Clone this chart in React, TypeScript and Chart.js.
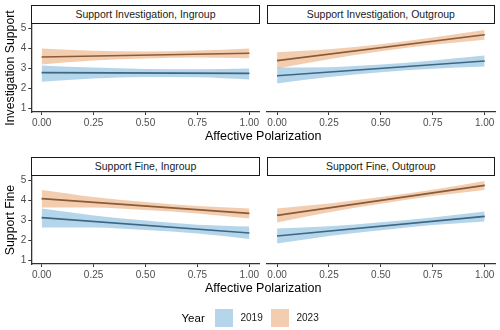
import React, { useEffect, useRef } from 'react';
import { Chart, registerables } from 'chart.js';
Chart.register(...registerables);

const years = ['2019', '2023'];
const panelTitles = [
  'Support Investigation, Ingroup',
  'Support Investigation, Outgroup',
  'Support Fine, Ingroup',
  'Support Fine, Outgroup',
];
const rowTitles = ['Investigation Support', 'Support Fine'];
const xTitle = 'Affective Polarization';
const legendTitle = 'Year';
const xTicks = [0, 0.25, 0.5, 0.75, 1];
const yTicks = [1, 2, 3, 4, 5];
const lineX = [0, 1];
const bandX = [0, 0.25, 0.5, 0.75, 1];

// 2019 estimates per panel (TL, TR, BL, BR)
const fit2019 = [
  [2.77, 2.73],
  [2.61, 3.35],
  [3.12, 2.35],
  [2.2, 3.18],
];
const lower2019 = [
  [2.31, 2.47, 2.55, 2.54, 2.43],
  [2.23, 2.55, 2.79, 2.96, 3.07],
  [2.63, 2.63, 2.5, 2.32, 2.05],
  [1.82, 2.2, 2.49, 2.75, 2.93],
];
const upper2019 = [
  [3.13, 3.02, 2.95, 2.94, 2.98],
  [3.02, 3.04, 3.17, 3.37, 3.62],
  [3.57, 3.23, 2.97, 2.76, 2.67],
  [2.57, 2.69, 2.89, 3.12, 3.42],
];
// 2023 estimates per panel
const fit2023 = [
  [3.55, 3.74],
  [3.37, 4.66],
  [4.07, 3.33],
  [3.23, 4.73],
];
const lower2023 = [
  [3.18, 3.37, 3.47, 3.52, 3.49],
  [2.97, 3.44, 3.84, 4.16, 4.41],
  [3.63, 3.62, 3.5, 3.33, 3.08],
  [2.87, 3.39, 3.81, 4.2, 4.5],
];
const upper2023 = [
  [3.98, 3.86, 3.82, 3.87, 3.98],
  [3.79, 3.94, 4.19, 4.52, 4.9],
  [4.5, 4.15, 3.9, 3.7, 3.58],
  [3.58, 3.83, 4.15, 4.51, 4.95],
];

const bandColors = ['rgba(107,174,214,0.5)', 'rgba(231,155,97,0.5)'];
const lineColors = ['#0e2030', '#2e1a0c'];
const FONT = '"Liberation Sans", Arial, Helvetica, sans-serif';
const W = 500;
const H = 330;
const X_AXIS_H = 20;

const panels = [
  { left: 31.3, right: 259.7, top: 24, bottom: 112, showY: true },
  { left: 266.7, right: 495, top: 24, bottom: 112, showY: false },
  { left: 31.3, right: 259.7, top: 176, bottom: 264, showY: true },
  { left: 266.7, right: 495, top: 176, bottom: 264, showY: false },
];

function Panel({ idx }: { idx: number }) {
  const ref = useRef<HTMLCanvasElement | null>(null);
  useEffect(() => {
    const p = panels[idx];
    const fits = [fit2019[idx], fit2023[idx]];
    const lows = [lower2019[idx], lower2023[idx]];
    const ups = [upper2019[idx], upper2023[idx]];
    const datasets: any[] = [];
    years.forEach((_, i) => {
      datasets.push({
        data: bandX.map((x, k) => ({ x, y: lows[i][k] })),
        borderWidth: 0,
        borderColor: 'transparent',
        pointRadius: 0,
        fill: false,
        cubicInterpolationMode: 'monotone',
      });
      datasets.push({
        data: bandX.map((x, k) => ({ x, y: ups[i][k] })),
        borderWidth: 0,
        borderColor: 'transparent',
        backgroundColor: bandColors[i],
        pointRadius: 0,
        fill: '-1',
        cubicInterpolationMode: 'monotone',
      });
    });
    years.forEach((_, i) => {
      datasets.push({
        data: lineX.map((x, k) => ({ x, y: fits[i][k] })),
        borderColor: lineColors[i],
        borderWidth: 1.6,
        pointRadius: 0,
        fill: false,
      });
    });
    const tickFont = { family: FONT, size: 10 };
    const chart = new Chart(ref.current as HTMLCanvasElement, {
      type: 'line',
      data: { datasets },
      options: {
        responsive: false,
        animation: false,
        events: [],
        layout: {
          padding: {
            left: p.showY ? 0 : p.left,
            top: p.top,
            right: W - p.right,
            bottom: H - p.bottom - X_AXIS_H,
          },
        },
        plugins: { legend: { display: false }, tooltip: { enabled: false } },
        scales: {
          x: {
            type: 'linear',
            min: -0.05,
            max: 1.05,
            afterBuildTicks: (s: any) => {
              s.ticks = xTicks.map((v) => ({ value: v }));
            },
            afterFit: (s: any) => {
              s.height = X_AXIS_H;
            },
            ticks: {
              font: tickFont,
              color: '#4d4d4d',
              padding: 2,
              maxRotation: 0,
              callback: (v: any) => Number(v).toFixed(2),
            },
            grid: { drawOnChartArea: false, drawTicks: true, tickLength: 3, color: '#333333', lineWidth: 1 },
            border: { display: true, color: '#333333', width: 1.3 },
          },
          y: {
            type: 'linear',
            display: p.showY,
            min: 0.8,
            max: 5.2,
            afterBuildTicks: (s: any) => {
              s.ticks = yTicks.map((v) => ({ value: v }));
            },
            afterFit: (s: any) => {
              s.width = p.showY ? p.left : 0;
            },
            ticks: {
              font: tickFont,
              color: '#4d4d4d',
              padding: 2,
              callback: (v: any) => String(v),
            },
            grid: { drawOnChartArea: false, drawTicks: true, tickLength: 3, color: '#333333', lineWidth: 1 },
            border: { display: true, color: '#333333', width: 1.3 },
          },
        },
      } as any,
    });
    return () => chart.destroy();
  }, [idx]);
  return (
    <canvas
      ref={ref}
      width={W}
      height={H}
      style={{ position: 'absolute', left: 0, top: 0, width: W, height: H }}
    />
  );
}

export default function App() {
  const stripH = 19.5;
  return (
    <div
      style={{
        position: 'fixed',
        left: 0,
        top: 0,
        width: W,
        height: H,
        background: '#ffffff',
        fontFamily: FONT,
        overflow: 'hidden',
      }}
    >
      {panels.map((p, i) => (
        <Panel key={i} idx={i} />
      ))}
      {panels.map((p, i) => (
        <div
          key={'s' + i}
          style={{
            position: 'absolute',
            left: p.left,
            top: p.top - stripH,
            width: p.right - p.left,
            height: stripH,
            boxSizing: 'border-box',
            border: '1px solid #1a1a1a',
            background: '#ffffff',
            color: '#1a1a1a',
            fontSize: 10.5,
            lineHeight: stripH - 2 + 'px',
            textAlign: 'center',
            whiteSpace: 'nowrap',
          }}
        >
          {panelTitles[i]}
        </div>
      ))}
      {rowTitles.map((t, r) => {
        const p = panels[r * 2];
        const cy = (p.top + p.bottom) / 2;
        return (
          <div
            key={'y' + r}
            style={{
              position: 'absolute',
              left: 10 - 75,
              top: cy - 8,
              width: 150,
              height: 16,
              lineHeight: '16px',
              textAlign: 'center',
              fontSize: 12.3,
              color: '#000',
              transform: 'rotate(-90deg)',
              whiteSpace: 'nowrap',
            }}
          >
            {t}
          </div>
        );
      })}
      {[0, 1].map((r) => {
        const p = panels[r * 2];
        return (
          <div
            key={'x' + r}
            style={{
              position: 'absolute',
              left: 31.3,
              width: 495 - 31.3,
              top: p.bottom + 15.5,
              height: 16,
              lineHeight: '16px',
              textAlign: 'center',
              fontSize: 12.5,
              color: '#000',
              whiteSpace: 'nowrap',
            }}
          >
            {xTitle}
          </div>
        );
      })}
      <div
        style={{
          position: 'absolute',
          left: 181.5,
          top: 310,
          height: 16,
          lineHeight: '16px',
          fontSize: 11.5,
          color: '#000',
        }}
      >
        {legendTitle}
      </div>
      {years.map((y, i) => (
        <React.Fragment key={'l' + i}>
          <div
            style={{
              position: 'absolute',
              left: 215 + i * 56,
              top: 309,
              width: 18,
              height: 18,
              background: bandColors[i],
            }}
          />
          <div
            style={{
              position: 'absolute',
              left: 240.5 + i * 56,
              top: 310,
              height: 16,
              lineHeight: '16px',
              fontSize: 10,
              color: '#1a1a1a',
            }}
          >
            {y}
          </div>
        </React.Fragment>
      ))}
    </div>
  );
}
